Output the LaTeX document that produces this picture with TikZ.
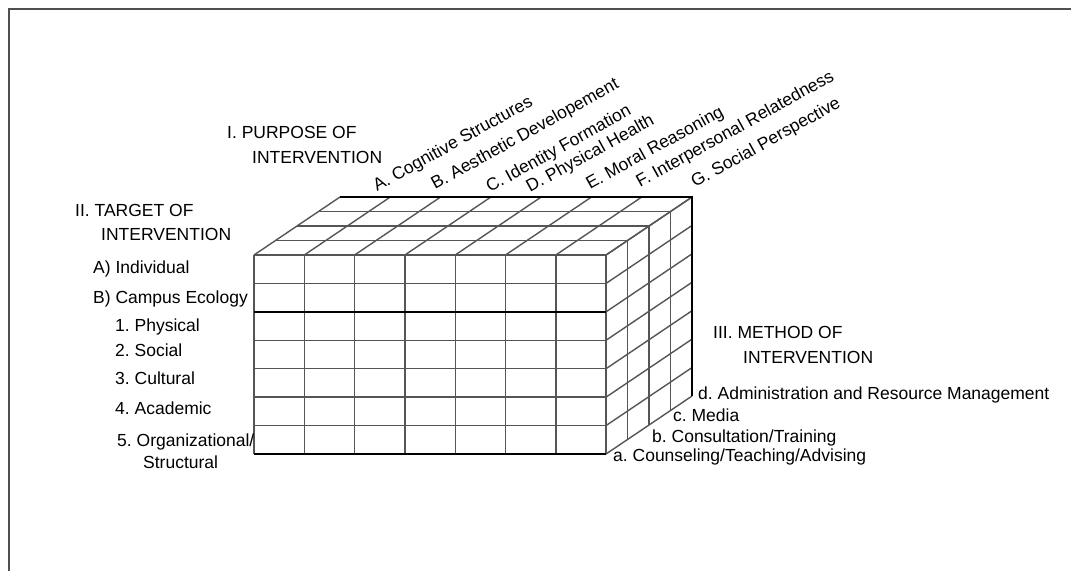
\documentclass[tikz,border=0pt]{standalone}
\usepackage{fontspec}
\setmainfont{Liberation Sans}
\usetikzlibrary{positioning}
\definecolor{gridgray}{HTML}{555555}
\definecolor{framegray}{HTML}{505050}
\frenchspacing

\begin{document}
\begin{tikzpicture}[x=1pt, y=-1pt, font=\fontsize{17.5}{21}\selectfont,
    lbl/.style={anchor=base west, inner sep=0pt},
    axlbl/.style={lbl, rotate=29},
    cell/.style={draw=gridgray, line width=1.4pt},
    edge/.style={draw=black, line width=1.8pt}]
  \useasboundingbox (0,0) rectangle (1071,571);
  \draw[framegray, line width=2pt] (9,571) -- (9,9) -- (1071,9);

  % front face, 7 x 7 cells
  \foreach \i in {0,...,7} \draw[cell] (254+50.3*\i,255) -- (254+50.3*\i,454);
  \foreach \j in {0,...,7} \draw[cell] (254,255+28.43*\j) -- (606,255+28.43*\j);
  % top face and right face, 4 deep
  \foreach \i in {0,...,7} \draw[cell] (254+50.3*\i,255) -- ++(86,-58);
  \foreach \k in {1,...,4} \draw[cell] (254+21.5*\k,255-14.5*\k) -- ++(352,0);
  \foreach \j in {0,...,7} \draw[cell] (606,255+28.43*\j) -- ++(86,-58);
  \foreach \k in {1,...,4} \draw[cell] (606+21.5*\k,255-14.5*\k) -- ++(0,199);
  \draw[edge] (254,311.9) -- (606,311.9);
  \draw[edge] (254,454) -- (606,454);
  \draw[edge] (340,197) -- (692,197) -- (692,396);

  % I. purpose
  \node[lbl] (purpose) at (227,138) {I. PURPOSE OF};
  \node[lbl] (purpose2) at (252,163) {INTERVENTION};
  \node[axlbl] (cogn) at (377,192) {A. Cognitive Structures};
  \node[axlbl] (aesth) at (435,190) {B. Aesthetic Developement};
  \node[axlbl] (ident) at (490,193) {C. Identity Formation};
  \node[axlbl] (health) at (530,193) {D. Physical Health};
  \node[axlbl] (moral) at (590,190) {E. Moral Reasoning};
  \node[axlbl] (interp) at (640,188) {F. Interpersonal Relatedness};
  \node[axlbl] (social) at (695,188) {G. Social Perspective};

  % II. target
  \node[lbl] (target) at (75,216) {II. TARGET OF};
  \node[lbl] (target2) at (101,240) {INTERVENTION};
  \node[lbl] (indiv) at (93,273) {A) Individual};
  \node[lbl] (campus) at (93,303) {B) Campus Ecology};
  \node[lbl] (phys) at (115,331) {1. Physical};
  \node[lbl] (soc) at (115,356) {2. Social};
  \node[lbl] (cult) at (115,384) {3. Cultural};
  \node[lbl] (acad) at (115,414) {4. Academic};
  \node[lbl] (org) at (117,446) {5. Organizational/};
  \node[lbl] (struct) at (143,468) {Structural};

  % III. method
  \node[lbl] (method) at (713,338) {III. METHOD OF};
  \node[lbl] (method2) at (743,363) {INTERVENTION};
  \node[lbl] (admin) at (698,399) {d. Administration and Resource Management};
  \node[lbl] (media) at (673,421) {c. Media};
  \node[lbl] (consult) at (652,442) {b. Consultation/Training};
  \node[lbl] (counsel) at (613,461) {a. Counseling/Teaching/Advising};
\end{tikzpicture}
\end{document}
